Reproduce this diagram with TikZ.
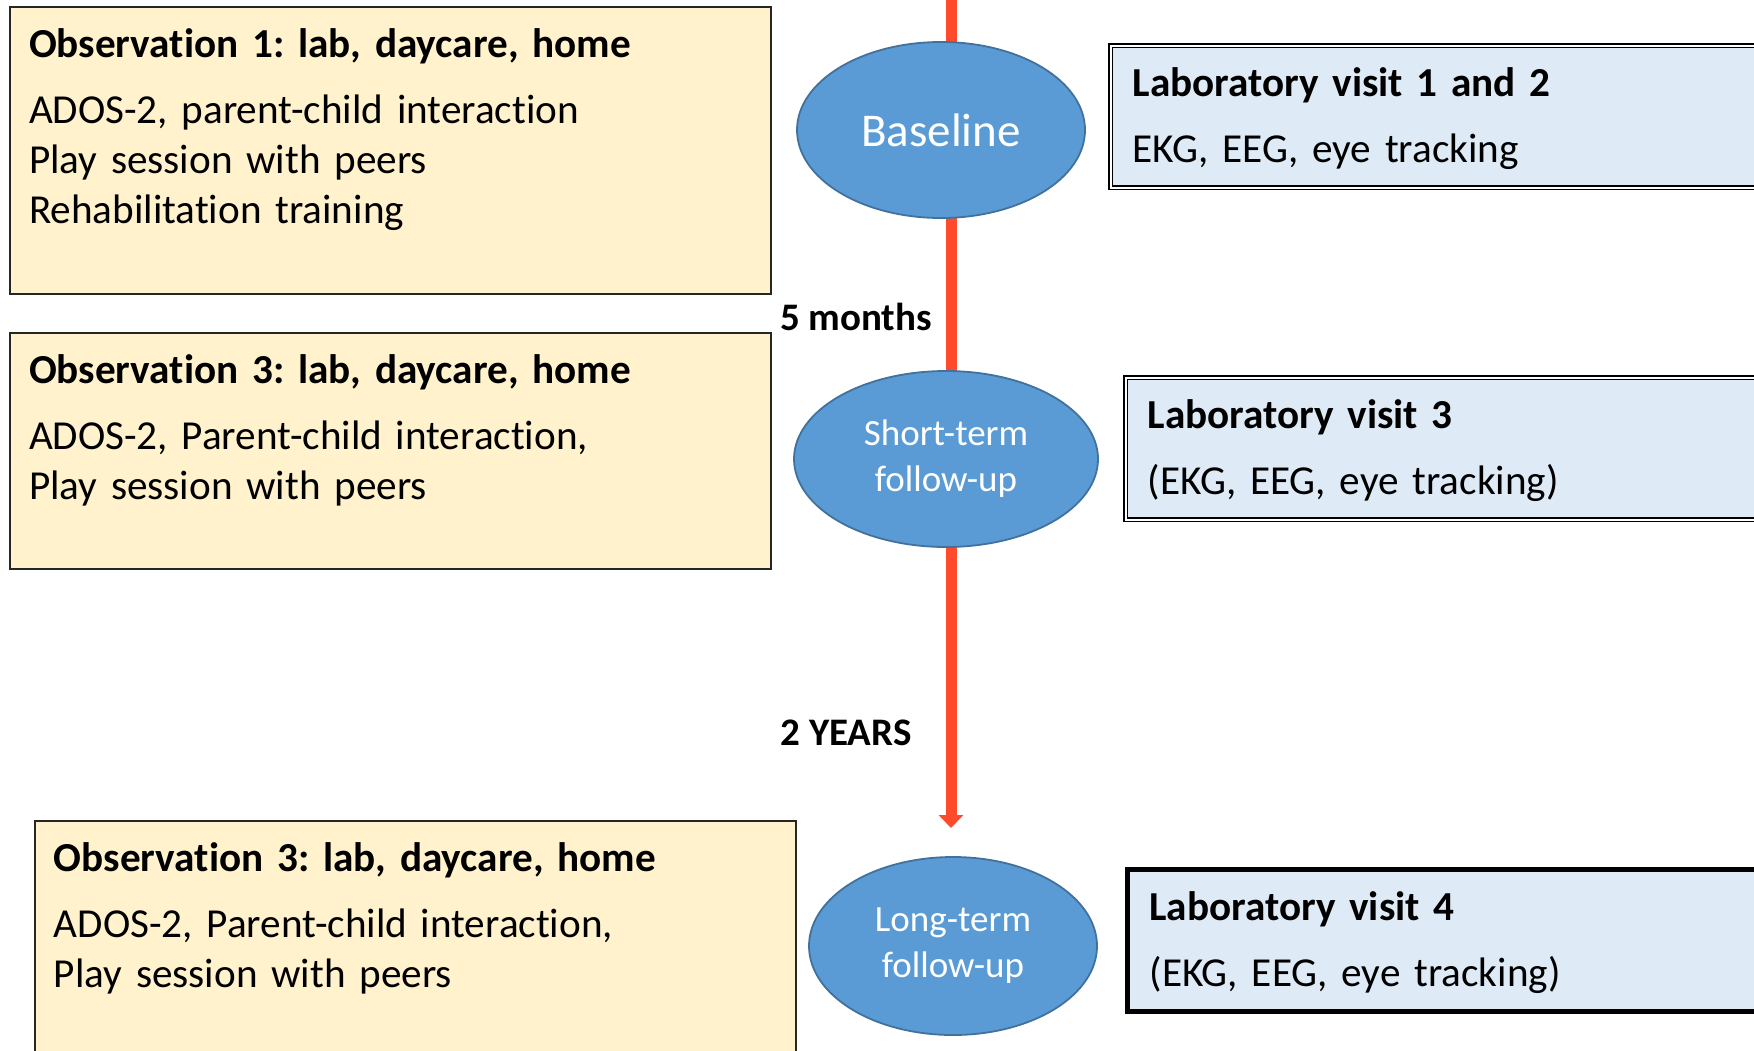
\documentclass[tikz,border=0pt]{standalone}
\usepackage{fontspec}
\setmainfont{Carlito}[Ligatures=NoCommon]
\frenchspacing
\usetikzlibrary{arrows.meta,shapes.geometric}
\definecolor{obsfill}{RGB}{255,242,204}
\definecolor{labfill}{RGB}{222,235,247}
\definecolor{phasefill}{RGB}{91,155,213}
\definecolor{phaseline}{RGB}{65,113,156}
\definecolor{timered}{RGB}{255,75,43}
\tikzstyle{timeline} = [line width=5.5pt, draw=timered, ->, >={Triangle[length=6.5pt,width=12pt]}]
\tikzstyle{obs} = [draw=black!85, line width=1pt, fill=obsfill, anchor=north west, inner xsep=9.5pt, inner ysep=0pt, text width=361.5pt, align=left, text height=25pt, font=\fontsize{20.6}{25}\selectfont]
\tikzstyle{lab} = [fill=labfill, draw=black, anchor=north west, inner xsep=11pt, inner ysep=0pt, text width=320pt, align=left, text height=25.5pt, text depth=45.5pt, font=\fontsize{20.6}{25}\selectfont]
\tikzstyle{labdouble} = [lab, line width=0.7pt, double=white, double distance=1pt]
\tikzstyle{labthick} = [lab, line width=2.5pt]
\tikzstyle{phase} = [ellipse, draw=phaseline, line width=0.9pt, fill=phasefill, text=white, inner sep=0pt, minimum height=88pt, align=center, font=\fontsize{18.5}{23}\selectfont]
\tikzstyle{period} = [font=\bfseries\fontsize{19.5}{23}\selectfont]

\begin{document}
\begin{tikzpicture}[x=0.5pt, y=-0.5pt]
    \useasboundingbox (0,0) rectangle (1754,1050);
    \clip (0,0) rectangle (1754,1050);
    % time axis
    \coordinate (top) at (951,0);
    \coordinate (tip) at (951,828);
    \draw [timeline] (top) -- (tip);
    \node (base)  [phase, minimum width=144pt, font=\fontsize{23.5}{28}\selectfont] at (941,130) {Baseline};
    \node (short) [phase, minimum width=152pt] at (946,459) {Short-term\\follow-up};
    \node (long)  [phase, minimum width=144pt, minimum height=89pt] at (953,946) {Long-term\\follow-up};
    \node (m5)  [period] at (856,317) {5 months};
    \node (y2)  [period] at (846,733) {2 YEARS};
    % observations
    \node (obs1) [obs, text depth=118.5pt] at (9,6) {\textbf{Observation 1: lab, daycare, home}\\[8pt]
        ADOS-2, parent-child interaction\\ Play session with peers\\ Rehabilitation training};
    \node (obs2) [obs, text depth=93pt] at (9,332) {\textbf{Observation 3: lab, daycare, home}\\[8pt]
        ADOS-2, Parent-child interaction,\\ Play session with peers};
    \node (obs3) [obs, text depth=95pt] at (34,820) {\textbf{Observation 3: lab, daycare, home}\\[8pt]
        ADOS-2, Parent-child interaction,\\ Play session with peers};
    % laboratory visits
    \node (lab1) [labdouble] at (1110,45) {\textbf{Laboratory visit 1 and 2}\\[8pt] EKG, EEG, eye tracking};
    \node (lab2) [labdouble] at (1125,377) {\textbf{Laboratory visit 3}\\[8pt] (EKG, EEG, eye tracking)};
    \node (lab3) [labthick] at (1125,867) {\textbf{Laboratory visit 4}\\[8pt] (EKG, EEG, eye tracking)};
\end{tikzpicture}
\end{document}
